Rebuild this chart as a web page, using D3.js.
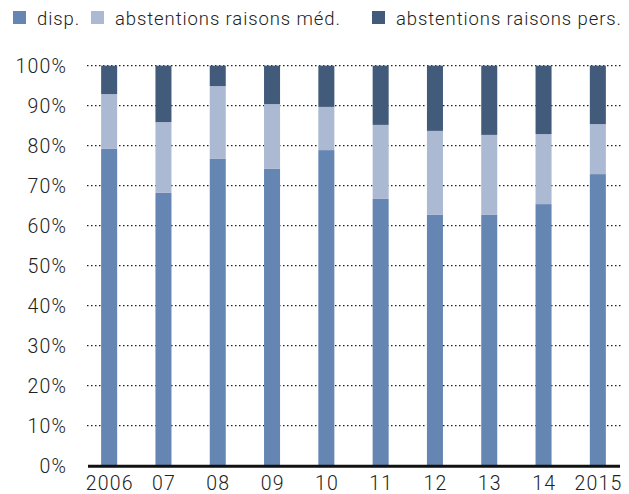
<!DOCTYPE html>
<html><head><meta charset="utf-8">
<script src="https://cdn.jsdelivr.net/npm/d3@7/dist/d3.min.js"></script>
<style>
html,body{margin:0;padding:0;background:#fff;}
text{font-family:Roboto,"Liberation Sans",sans-serif;fill:#222;}
</style></head>
<body>
<svg id="c" width="629" height="494"></svg>
<script>
const categories = ["2006","07","08","09","10","11","12","13","14","2015"];
const disp = [79.2,68.2,76.7,74.2,78.9,66.7,62.7,62.7,65.4,72.9];
const absMed = [13.7,17.7,18.2,16.2,10.8,18.5,21.0,20.0,17.5,12.5];
const absPers = [7.1,14.1,5.1,9.6,10.3,14.8,16.3,17.3,17.1,14.6];
const seriesNames = ["disp.","abstentions raisons méd.","abstentions raisons pers."];
const yTicks = [0,10,20,30,40,50,60,70,80,90,100];
const colors = ["#6586b2","#abb9d3","#425b7b"];

const svg = d3.select("#c");
const rows = categories.map((c,i)=>({cat:c, s0:disp[i], s1:absMed[i], s2:absPers[i]}));
const stack = d3.stack().keys(["s0","s1","s2"])(rows);

const x = d3.scaleBand().domain(categories).range([82,625]).paddingInner(0.705).paddingOuter(0.3525);
const y = d3.scaleLinear().domain([0,100]).range([465.7,65.7]);

const LS = 1.2;

// grid
svg.append("g").selectAll("line").data(yTicks.filter(t=>t>0)).join("line")
  .attr("x1",87).attr("x2",622)
  .attr("y1",d=>y(d)).attr("y2",d=>y(d))
  .attr("stroke","#222").attr("stroke-width",1.2).attr("stroke-dasharray","1.5,2.5");

// y labels
svg.append("g").selectAll("text").data(yTicks).join("text")
  .attr("x",66+LS).attr("y",d=>y(d)+7).attr("text-anchor","end")
  .attr("font-size",19.5).attr("font-weight",300).attr("letter-spacing",LS).text(d=>d+"%");

// bars
svg.append("g").selectAll("g").data(stack).join("g")
  .attr("fill",(d,i)=>colors[i])
  .selectAll("rect").data(d=>d).join("rect")
  .attr("x",d=>x(d.data.cat)).attr("width",x.bandwidth())
  .attr("y",d=>y(d[1])).attr("height",d=>y(d[0])-y(d[1]));

// baseline
svg.append("line").attr("x1",88).attr("x2",620).attr("y1",y(0)+0.5).attr("y2",y(0)+0.5)
  .attr("stroke","#111").attr("stroke-width",3);

// x labels
svg.append("g").selectAll("text").data(categories).join("text")
  .attr("x",d=>x(d)+x.bandwidth()/2+LS/2).attr("y",489.5).attr("text-anchor","middle")
  .attr("font-size",19.5).attr("font-weight",300).attr("letter-spacing",LS).text(d=>d);

// legend
const legX = [13,91,372];
const lg = svg.append("g");
seriesNames.forEach((n,i)=>{
  lg.append("rect").attr("x",legX[i]).attr("y",11).attr("width",13).attr("height",13).attr("fill",colors[i]);
  lg.append("text").attr("x",legX[i]+24).attr("y",25).attr("font-size",18.5).attr("font-weight",300).attr("letter-spacing",0.9).text(n);
});
</script>
</body></html>
